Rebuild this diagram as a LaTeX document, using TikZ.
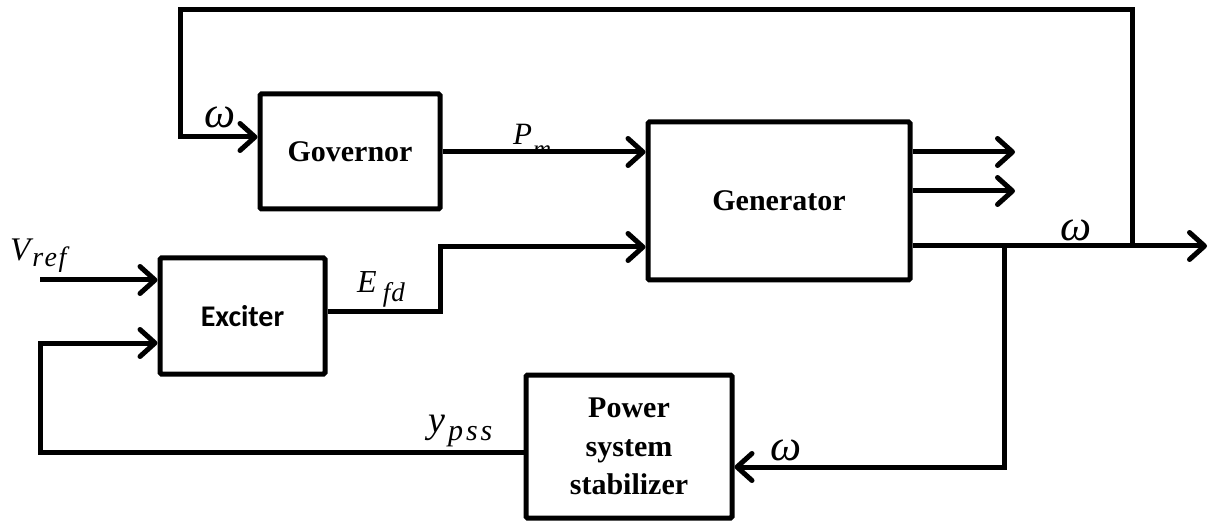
\documentclass[tikz,border=0pt]{standalone}
\usepackage{fontspec}
\setmainfont{Liberation Serif}
\newfontfamily\calib{Carlito}
\usetikzlibrary{arrows.meta}
\begin{document}
\begin{tikzpicture}[x=1pt,y=-1pt,
  blk/.style={draw,line width=5pt,rounded corners=1.5pt,inner sep=0pt,align=center,
    font=\fontsize{30}{38.5}\selectfont\bfseries},
  conn/.style={line width=5pt},
  arr/.style={conn,-{Straight Barb[round,length=15pt,width=27pt]}},
  lbl/.style={inner sep=0pt,font=\fontsize{32}{32}\selectfont\itshape},
  om/.style={inner sep=0pt,font=\fontsize{44}{44}\selectfont\itshape}
]
\useasboundingbox (0,0) rectangle (1210,521);

% blocks
\node[blk,minimum width=180pt,minimum height=115pt] (gov) at (350,151.5) {Governor};
\node[blk,minimum width=262pt,minimum height=158pt] (gen) at (779,201) {Generator};
\node[blk,minimum width=165pt,minimum height=116pt,
      font=\calib\fontsize{30}{30}\selectfont\bfseries] (exc) at (242.5,316) {\raisebox{-7pt}{Exciter}};
\node[blk,minimum width=206pt,minimum height=143pt] (pss) at (629,446.5) {Power\\system\\stabilizer};

% coordinates
\coordinate (jw) at (1132,246);
\coordinate (jd) at (1004,246);
\coordinate (top1) at (1132,10);
\coordinate (top2) at (180,10);
\coordinate (gin) at (180,137);
\coordinate (ef1) at (440,312);
\coordinate (ef2) at (440,247);
\coordinate (o1) at (1015,152);
\coordinate (o2) at (1015,191);
\coordinate (out) at (1207,246);
\coordinate (pc) at (1004,467);
\coordinate (yl) at (40,452);
\coordinate (yu) at (40,343);
\coordinate (vr) at (40,280);

% labels
\node[om] (wg) at (220,117) {ω};
\node[om] (wo) at (1076,230) {ω};
\node[om] (wp) at (786,450) {ω};
\node[lbl,anchor=base west,font=\fontsize{33}{33}\selectfont\itshape] (vref) at (10,261)
  {V\kern2pt\raisebox{-6pt}{\fontsize{28}{28}\selectfont r\kern1.5pt e\kern1.5pt f}};
\node[lbl,anchor=base west] (efd) at (357,293)
  {E\kern6pt\raisebox{-9pt}{\fontsize{27}{27}\selectfont f\kern1pt d}};
\node[lbl,anchor=base west,font=\fontsize{38}{38}\selectfont\itshape] (ypss) at (428,432)
  {y\kern3pt\raisebox{-8pt}{\fontsize{30}{30}\selectfont p\kern3pt s\kern3pt s}};
\begin{scope}
  \clip (500,100) rectangle (600,153);
  \node[lbl,anchor=base west,font=\fontsize{31}{31}\selectfont\itshape] (pm) at (513,145)
    {P\kern1pt\raisebox{-13pt}{\fontsize{25}{25}\selectfont m}};
\end{scope}

% connectors
\draw[arr] (jw) -- (top1) -- (top2) -- (gin) -- (gin -| gov.west);
\draw[arr] (gov.east |- o1) -- (o1 -| gen.west);
\draw[arr] (ef1 -| exc.east) -- (ef1) -- (ef2) -- (ef2 -| gen.west);
\draw[arr] (o1 -| gen.east) -- (o1);
\draw[arr] (o2 -| gen.east) -- (o2);
\draw[arr] (jd -| gen.east) -- (out);
\draw[arr] (jd) -- (pc) -- (pc -| pss.east);
\draw[arr] (yl -| pss.west) -- (yl) -- (yu) -- (yu -| exc.west);
\draw[arr] (vr) -- (vr -| exc.west);
\end{tikzpicture}
\end{document}
